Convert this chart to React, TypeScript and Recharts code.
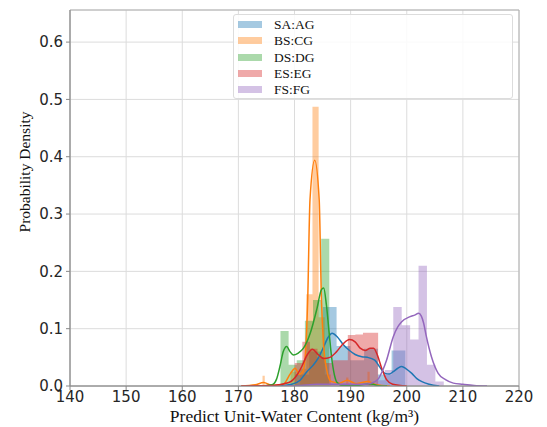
import React from 'react';
import {
  ComposedChart, Area, Line, XAxis, YAxis, CartesianGrid, ReferenceArea, Legend,
} from 'recharts';

// ---- axes ----
const xTicks = [140, 150, 160, 170, 180, 190, 200, 210, 220];
const yTicks = [0, 0.1, 0.2, 0.3, 0.4, 0.5, 0.6];
const yMax = 0.656;

// ---- series names / colours ----
const seriesNames = ['SA:AG', 'BS:CG', 'DS:DG', 'ES:EG', 'FS:FG'];
const seriesColors = ['#1f77b4', '#ff7f0e', '#2ca02c', '#d62728', '#9467bd'];

// ---- histogram bins: [start, end, density] ----
const saBins: [number, number, number][] = [
  [180.15, 182.6, 0.02], [182.6, 185.05, 0.06], [185.05, 187.5, 0.138], [187.5, 189.95, 0.07],
  [189.95, 192.4, 0.045], [192.4, 194.85, 0.065], [194.85, 197.3, 0.02], [197.3, 199.75, 0.062],
];
const bsBins: [number, number, number][] = [
  [174.3, 174.7, 0.018], [179.3, 180.3, 0.025], [181.0, 182.1, 0.03], [182.1, 183.2, 0.16],
  [183.2, 184.3, 0.487], [184.3, 185.4, 0.12], [185.4, 186.5, 0.02], [189.2, 189.6, 0.015],
  [193.0, 193.4, 0.025],
];
const dsBins: [number, number, number][] = [
  [177.5, 178.95, 0.096], [178.95, 180.4, 0.037], [180.4, 181.85, 0.045], [181.85, 183.3, 0.114],
  [183.3, 184.75, 0.15], [184.75, 186.2, 0.257], [193.2, 194.0, 0.005],
];
const esBins: [number, number, number][] = [
  [180.05, 181.4, 0.04], [181.4, 182.75, 0.077], [182.75, 184.1, 0.065], [184.1, 185.45, 0.05],
  [185.45, 186.8, 0.04], [186.8, 188.15, 0.045], [188.15, 189.5, 0.045], [189.5, 190.85, 0.089],
  [190.85, 192.2, 0.09], [192.2, 193.55, 0.093], [193.55, 194.9, 0.093],
];
const fsBins: [number, number, number][] = [
  [194.6, 196.1, 0.01], [196.1, 197.6, 0.028], [197.6, 199.1, 0.138], [199.1, 200.6, 0.106],
  [200.6, 202.1, 0.081], [202.1, 203.6, 0.21], [203.6, 205.1, 0.037], [205.1, 206.6, 0.008],
];

// ---- KDE curves: [x, density] ----
const saKde: [number, number][] = [
  [177, 0], [179.5, 0.003], [181, 0.01], [182.2, 0.025], [183.3, 0.036], [184.2, 0.048],
  [185.1, 0.066], [186, 0.085], [186.7, 0.092], [187.6, 0.086], [188.7, 0.072], [189.8, 0.062],
  [190.8, 0.055], [192, 0.051], [193, 0.05], [194.3, 0.045], [195.2, 0.033], [196.1, 0.022],
  [196.9, 0.021], [197.6, 0.025], [198.4, 0.031], [199.1, 0.034], [199.9, 0.03], [200.9, 0.022],
  [201.8, 0.013], [202.7, 0.0075], [204, 0.003], [205.8, 0],
];
const bsKde: [number, number][] = [
  [170.5, 0], [173, 0.002], [174.5, 0.006], [176, 0.001], [178, 0.003], [179.3, 0.022],
  [180.1, 0.031], [180.9, 0.02], [181.5, 0.025], [181.9, 0.05], [182.35, 0.15], [182.76, 0.325],
  [183.6, 0.394], [184.4, 0.325], [184.8, 0.15], [185.2, 0.07], [185.7, 0.03], [186.5, 0.008],
  [188, 0.005], [189.4, 0.01], [191, 0.004], [193.1, 0.008], [194.5, 0.002], [197, 0],
];
const dsKde: [number, number][] = [
  [174, 0], [176, 0.002], [176.8, 0.012], [177.4, 0.034], [178, 0.06], [178.6, 0.069],
  [179.2, 0.06], [179.8, 0.054], [180.6, 0.057], [181.6, 0.066], [182.8, 0.092], [184, 0.135],
  [184.8, 0.168], [185.2, 0.171], [185.7, 0.14], [186.2, 0.09], [186.6, 0.051], [187.1, 0.02],
  [187.6, 0.006], [188.5, 0.001], [191, 0.001], [193.5, 0.004], [195, 0.0005], [196.5, 0],
];
const esKde: [number, number][] = [
  [170.5, 0], [176, 0.001], [179, 0.006], [180.5, 0.02], [181.3, 0.034], [182.3, 0.055],
  [183.2, 0.064], [184.2, 0.055], [185.2, 0.048], [186.3, 0.05], [187.5, 0.06], [188.7, 0.074],
  [189.8, 0.081], [190.8, 0.077], [191.7, 0.066], [192.6, 0.062], [193.5, 0.066], [194.1, 0.066],
  [194.8, 0.053], [195.5, 0.032], [196.4, 0.011], [197.5, 0.003], [200, 0],
];
const fsKde: [number, number][] = [
  [178, 0], [181, 0.001], [184, 0.003], [187, 0.003], [190, 0.003], [192.5, 0.003],
  [193.7, 0.005], [194.9, 0.012], [195.7, 0.027], [196.4, 0.045], [197.6, 0.086], [198.4, 0.103],
  [199.1, 0.112], [200.6, 0.121], [201.5, 0.124], [202.1, 0.127], [202.6, 0.122], [203.0, 0.11],
  [203.5, 0.086], [204.4, 0.051], [205.6, 0.022], [206.9, 0.011], [208.3, 0.005], [210, 0.003],
  [212, 0.001], [214.3, 0],
];

const allBins = [saBins, bsBins, dsBins, esBins, fsBins];
const allKde = [saKde, bsKde, dsKde, esKde, fsKde];

function binsToSteps(bins: [number, number, number][]) {
  const pts: { x: number; y: number }[] = [];
  bins.forEach(([s, e, h], i) => {
    pts.push({ x: s, y: h });
    const next = bins[i + 1];
    if (!next || Math.abs(next[0] - e) > 1e-9) pts.push({ x: e, y: 0 });
  });
  return pts;
}
function kdeToPts(k: [number, number][]) {
  return k.map(([x, y]) => ({ x, y }));
}

const tickStyle = { fontSize: 15, fill: '#262626', fontFamily: 'DejaVu Sans' };
const serif = 'Liberation Serif, Times New Roman, serif';

const LegendBox = () => (
  <div
    style={{
      width: 280, height: 85, boxSizing: 'border-box', border: '1px solid #dcdcdc', borderRadius: 3,
      background: 'rgba(255,255,255,0.85)', position: 'relative', fontFamily: serif,
    }}
  >
    {seriesNames.map((n, i) => (
      <div
        key={n}
        style={{ position: 'absolute', left: 0, top: 1 + i * 16.3, height: 16, width: '100%' }}
      >
        <div
          style={{
            position: 'absolute', left: 4, top: 5, width: 24, height: 7,
            background: seriesColors[i], opacity: 0.4,
          }}
        />
        <div
          style={{
            position: 'absolute', left: 40, top: 0, lineHeight: '17px', fontSize: 13.5, color: '#111',
          }}
        >
          {n}
        </div>
      </div>
    ))}
  </div>
);

const YLabel = (props: any) => {
  const vb = props.viewBox || { y: 10, height: 376 };
  const x = 24;
  const y = vb.y + vb.height / 2 - 26;
  return (
    <text
      x={x}
      y={y}
      transform={`rotate(-90 ${x} ${y})`}
      textAnchor="middle"
      dominantBaseline="central"
      fontFamily={serif}
      fontSize={15.5}
      fill="#111"
    >
      Probability Density
    </text>
  );
};

export default function App() {
  const series: React.ReactNode[] = [];
  allBins.forEach((bins, i) => {
    series.push(
      <Area
        key={`h${i}`}
        data={binsToSteps(bins)}
        dataKey="y"
        type="stepAfter"
        stroke="none"
        fill={seriesColors[i]}
        fillOpacity={0.4}
        isAnimationActive={false}
        name={seriesNames[i]}
        dot={false}
        activeDot={false}
      />
    );
    series.push(
      <Line
        key={`k${i}`}
        data={kdeToPts(allKde[i])}
        dataKey="y"
        type="monotone"
        stroke={seriesColors[i]}
        strokeWidth={1.5}
        dot={false}
        activeDot={false}
        isAnimationActive={false}
        legendType="none"
      />
    );
  });

  return (
    <div style={{ position: 'absolute', left: 0, top: 0, background: '#fff' }}>
      <ComposedChart width={547} height={427} margin={{ top: 10, right: 28, bottom: 0, left: 0 }}>
        <CartesianGrid stroke="#dcdcdc" strokeWidth={1} />
        <XAxis
          type="number"
          dataKey="x"
          domain={[140, 220]}
          ticks={xTicks}
          allowDataOverflow
          height={41}
          tick={tickStyle}
          tickSize={4}
          tickMargin={1}
          tickLine={{ stroke: '#888' }}
          axisLine={{ stroke: '#888' }}
          label={{
            value: 'Predict Unit-Water Content (kg/m³)',
            position: 'insideBottom',
            offset: 5,
            style: { fontFamily: serif, fontSize: 17.5, fill: '#111' },
          }}
        />
        <YAxis
          type="number"
          domain={[0, yMax]}
          ticks={yTicks}
          allowDataOverflow
          width={70}
          tick={tickStyle}
          tickSize={4}
          tickMargin={3}
          tickLine={{ stroke: '#888' }}
          axisLine={{ stroke: '#888' }}
          tickFormatter={(v: number) => v.toFixed(1)}
          label={{ content: YLabel }}
        />
        {series}
        <ReferenceArea
          x1={140}
          x2={220}
          y1={0}
          y2={yMax}
          fill="none"
          fillOpacity={0}
          stroke="#b0b0b0"
          strokeWidth={1}
          ifOverflow="visible"
        />
        <Legend
          verticalAlign="middle"
          layout="horizontal"
          wrapperStyle={{ top: 14, left: 233, width: 280, height: 85 }}
          content={() => <LegendBox />}
        />
      </ComposedChart>
    </div>
  );
}
